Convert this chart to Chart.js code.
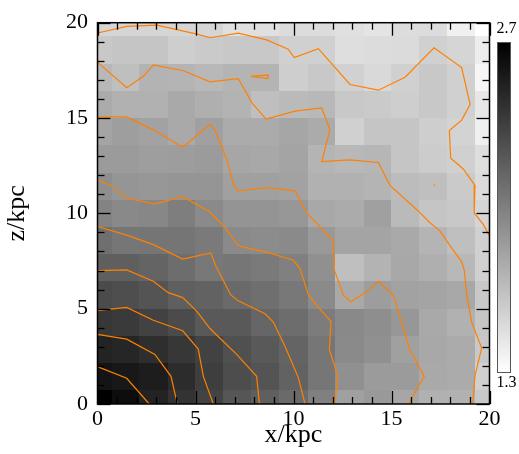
<!DOCTYPE html>
<html lang="en">
<head>
<meta charset="UTF-8">
<title>density map</title>
<script src="https://cdn.jsdelivr.net/npm/chart.js"></script>
<style>
  body{margin:0;background:#fff}
</style>
</head>
<body>
<canvas id="map" width="519" height="454"></canvas>
<script>
// cell centres in kpc (same for x and z)
const centres=[0,1.429,2.857,4.286,5.714,7.143,8.571,10,11.429,12.857,14.286,15.714,17.143,18.571,20]

// grey level per cell, one row per z centre, bottom row first
const z00=[2.70,2.63,2.51,2.42,2.33,2.23,2.18,2.12,2.00,1.82,1.86,1.79,1.73,1.73,1.60]
const z01=[2.59,2.57,2.54,2.46,2.36,2.28,2.24,2.16,2.05,1.91,1.85,1.85,1.77,1.76,1.56]
const z02=[2.51,2.49,2.45,2.40,2.34,2.26,2.21,2.15,2.05,1.94,1.91,1.82,1.78,1.76,1.60]
const z03=[2.40,2.38,2.34,2.29,2.21,2.21,2.14,2.10,2.02,1.95,1.92,1.87,1.77,1.73,1.62]
const z04=[2.29,2.27,2.24,2.18,2.16,2.12,2.09,2.04,1.94,1.77,1.84,1.81,1.80,1.78,1.60]
const z05=[2.18,2.18,2.15,2.10,2.04,2.05,2.03,2.00,1.91,1.65,1.72,1.78,1.74,1.69,1.56]
const z06=[2.09,2.05,2.06,2.06,2.03,1.94,1.93,1.94,1.86,1.80,1.80,1.77,1.71,1.65,1.56]
const z07=[1.98,1.95,1.96,2.01,1.94,1.89,1.89,1.87,1.78,1.76,1.82,1.68,1.62,1.60,1.53]
const z08=[1.92,1.88,1.87,1.88,1.88,1.82,1.82,1.81,1.73,1.73,1.71,1.67,1.65,1.59,1.50]
const z09=[1.85,1.85,1.83,1.84,1.85,1.79,1.78,1.80,1.71,1.69,1.70,1.62,1.58,1.56,1.48]
const z10=[1.80,1.83,1.81,1.77,1.82,1.76,1.76,1.79,1.76,1.56,1.62,1.62,1.57,1.54,1.39]
const z11=[1.76,1.73,1.73,1.77,1.74,1.72,1.65,1.68,1.69,1.60,1.59,1.57,1.60,1.56,1.43]
const z12=[1.69,1.65,1.72,1.71,1.69,1.71,1.71,1.57,1.60,1.55,1.51,1.56,1.60,1.56,1.35]
const z13=[1.60,1.62,1.62,1.57,1.59,1.60,1.60,1.56,1.56,1.48,1.49,1.50,1.56,1.53,1.40]
const z14=[1.53,1.53,1.53,1.53,1.53,1.47,1.47,1.49,1.49,1.47,1.45,1.49,1.49,1.38,1.30]
const density=[z00,z01,z02,z03,z04,z05,z06,z07,z08,z09,z10,z11,z12,z13,z14]

// colour bar range
const cbMin=1.3
const cbMax=2.7

// axis labels
const majorTicks=[0,5,10,15,20]
const minorTicks=[0,1,2,3,4,5,6,7,8,9,10,11,12,13,14,15,16,17,18,19,20]

// contour lines, [x, z] in kpc
const c1=[[0,19.46],[1.49,19.81],[3.02,19.87],[5.03,19.41],[5.74,19.21],[7.18,19.45],[8.63,19.10],[9.73,18.61],[10.04,18.17],[11.27,18.64],[12.88,16.76],[14.33,16.46],[15.69,17.14],[17.17,18.68],[18.58,17.65],[19.01,15.71],[18.58,14.89],[17.95,14.34],[18.02,12.89],[18.66,12.33],[19.26,11.47],[19.22,10.02],[19.68,9.42],[20,8.82],[20,7.03]]
const c2=[[0,17.93],[1.49,16.59],[2.34,17.19],[2.85,17.79],[4.38,17.48],[5.74,16.90],[7.18,17.07],[7.90,15.77],[8.60,14.94],[10.08,15.36],[11.44,15.53],[11.86,14.38],[11.44,12.72],[12.88,12.80],[14.33,12.67],[14.92,11.47],[16.35,10.14],[16.96,9.51],[17.47,9.08],[17.98,8.31],[18.58,7.46],[18.71,7.03],[18.84,5.72],[19.09,4.30],[19.60,2.93],[19.26,1.49],[19.14,0]]
const c3=[[0,15.06],[1.49,15.06],[2.85,14.38],[4.35,13.47],[5.74,14.66],[5.99,14.38],[6.59,12.84],[6.96,11.44],[7.18,11.18],[8.63,11.35],[10.08,11.18],[10.67,10.02],[12.03,8.57],[12.08,7.03],[12.54,5.72],[12.92,5.36],[13.60,5.79],[14.33,6.44],[15.09,5.72],[15.94,2.85],[16.67,1.45],[15.86,0]]
const c4=[[0,11.76],[0.72,11.44],[1.49,10.79],[2.93,10.50],[4.35,10.87],[5.74,10.07],[6.51,9.25],[7.18,8.31],[7.44,8.23],[8.63,7.97],[9.99,7.54],[10.33,7.12],[10.76,5.72],[11.27,5.07],[11.91,4.34],[11.83,2.85],[12.26,1.49],[12.12,0]]
const c5=[[0,9.31],[1.49,8.86],[2.85,8.36],[4.35,7.60],[5.78,7.92],[6.05,7.21],[6.80,5.72],[7.18,5.41],[8.55,4.73],[8.97,4.30],[9.57,3.02],[10.24,1.40],[10.59,0]]
const c6=[[0,7.00],[1.49,7.03],[2.85,6.44],[3.61,5.84],[4.35,5.58],[5.06,4.87],[5.74,3.96],[6.42,3.28],[7.10,2.60],[8.12,1.45],[8.26,0]]
const c7=[[0,4.90],[1.49,5.07],[2.85,4.39],[4.35,3.84],[5.14,2.88],[5.40,1.45],[5.91,0]]
const c8=[[0,3.65],[1.49,3.40],[2.93,2.60],[3.75,1.45],[4.07,0]]
const c9=[[0,1.96],[1.49,1.35],[2.64,0]]
const loop1=[[7.84,17.20],[8.72,17.25],[8.69,17.07],[7.84,17.18]]
const loop2=[[17.15,11.48],[17.23,11.48]]
const contours=[c1,c2,c3,c4,c5,c6,c7,c8,c9,loop1,loop2]

function grey(v){
    let t=(cbMax-v)/(cbMax-cbMin)
    t=Math.max(0,Math.min(1,t))
    const g=Math.round(255*t)
    return "rgb("+g+","+g+","+g+")"
}

const serif="'Liberation Serif', 'Times New Roman', serif"

const heatmap={
    id:"heatmap",
    beforeDatasetsDraw(chart){
        const {ctx,chartArea:a,scales:{x,y}}=chart
        const h=(centres[1]-centres[0])/2
        ctx.save()
        ctx.beginPath()
        ctx.rect(a.left,a.top,a.right-a.left,a.bottom-a.top)
        ctx.clip()
        density.forEach((row,j)=>{
            row.forEach((v,i)=>{
                const x0=Math.round(x.getPixelForValue(centres[i]-h))
                const x1=Math.round(x.getPixelForValue(centres[i]+h))
                const y0=Math.round(y.getPixelForValue(centres[j]+h))
                const y1=Math.round(y.getPixelForValue(centres[j]-h))
                ctx.fillStyle=grey(v)
                ctx.fillRect(x0,y0,x1-x0,y1-y0)
            })
        })
        ctx.restore()
    }
}

// box round the map with inward ticks on all four sides
const frame={
    id:"frame",
    afterDraw(chart){
        const ctx=chart.ctx
        const a=chart.chartArea
        const sx=chart.scales.x, sy=chart.scales.y
        ctx.save()
        ctx.strokeStyle="#000"
        ctx.lineWidth=1.3
        for(const k of minorTicks){
            const len=majorTicks.indexOf(k)>=0?13:7
            const px=Math.round(sx.getPixelForValue(k))+0.5
            const py=Math.round(sy.getPixelForValue(k))+0.5
            const segs=[
                [px,a.bottom,px,a.bottom-len],
                [px,a.top,px,a.top+len],
                [a.left,py,a.left+len,py],
                [a.right,py,a.right-len,py]
            ]
            for(const s of segs){
                ctx.beginPath()
                ctx.moveTo(s[0],s[1])
                ctx.lineTo(s[2],s[3])
                ctx.stroke()
            }
        }
        ctx.lineWidth=1.5
        ctx.strokeRect(a.left,a.top,a.right-a.left,a.bottom-a.top)
        ctx.restore()
    }
}

const colourbar={
    id:"colourbar",
    afterDraw(chart){
        const {ctx,chartArea:a}=chart
        const left=a.right+8, top=42.5, w=13, h=330
        ctx.save()
        const g=ctx.createLinearGradient(0,top,0,top+h)
        g.addColorStop(0,grey(cbMax))
        g.addColorStop(1,grey(cbMin))
        ctx.fillStyle=g
        ctx.fillRect(left,top,w,h)
        ctx.strokeStyle="#555"
        ctx.lineWidth=1
        ctx.strokeRect(left,top,w,h)
        ctx.fillStyle="#000"
        ctx.font="16px "+serif
        ctx.textAlign="left"
        ctx.textBaseline="middle"
        ctx.fillText(cbMax.toFixed(1),left-1,top-14)
        ctx.fillText(cbMin.toFixed(1),left-1,top+h+10)
        ctx.restore()
    }
}

const ctx=document.getElementById("map").getContext("2d")
new Chart(ctx,{
    type:"scatter",
    data:{
        datasets:contours.map(c=>({
            data:c.map(p=>({x:p[0],y:p[1]})),
            showLine:true,
            borderColor:"#ff8000",
            borderWidth:1.2,
            pointRadius:0,
            fill:false,
            tension:0
        }))
    },
    options:{
        responsive:false,
        animation:false,
        layout:{padding:{top:13.5,right:29.5,left:0,bottom:0}},
        plugins:{legend:{display:false},tooltip:{enabled:false}},
        scales:{
            x:{
                type:"linear",min:0,max:20,position:"bottom",
                grid:{display:false,drawTicks:false},
                border:{display:false},
                afterBuildTicks(s){s.ticks=majorTicks.map(v=>({value:v}))},
                ticks:{padding:1.8,color:"#000",maxRotation:0,font:{family:serif,size:22}},
                title:{display:true,text:"x/kpc",color:"#000",font:{family:serif,size:26},padding:{top:0,bottom:3}},
                afterFit(s){s.height=50}
            },
            y:{
                type:"linear",min:0,max:20,position:"left",
                grid:{display:false,drawTicks:false},
                border:{display:false},
                afterBuildTicks(s){s.ticks=majorTicks.map(v=>({value:v}))},
                ticks:{padding:9.5,color:"#000",font:{family:serif,size:22}},
                title:{display:true,text:"z/kpc",color:"#000",font:{family:serif,size:26},padding:{top:2,bottom:0}},
                afterFit(s){s.width=97.5}
            }
        }
    },
    plugins:[heatmap,frame,colourbar]
})
</script>
</body>
</html>
